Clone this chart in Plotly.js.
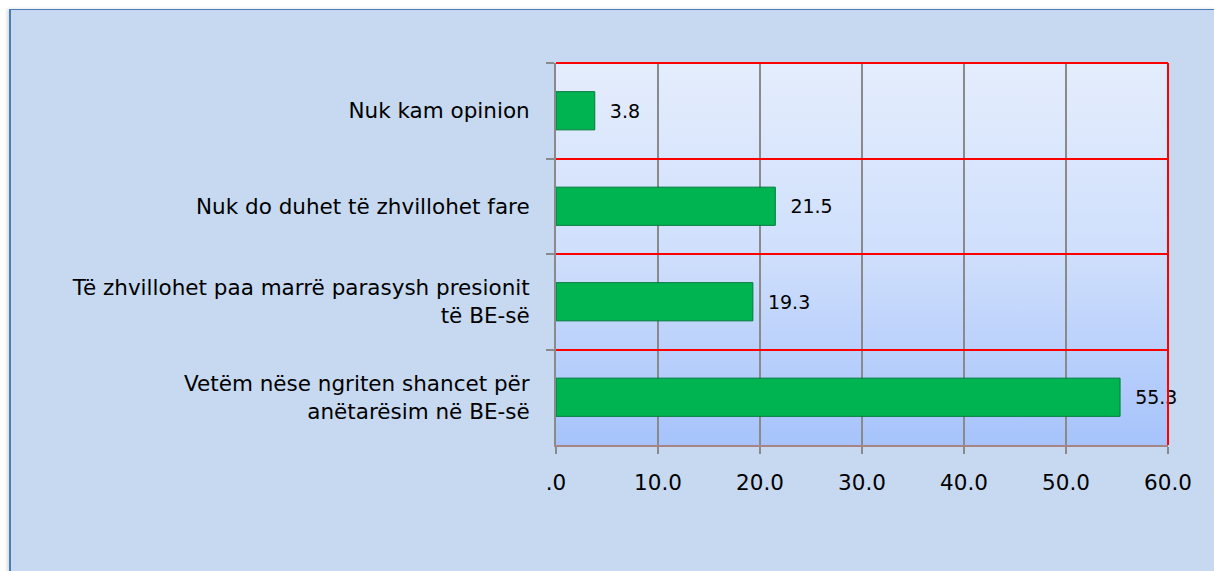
<!DOCTYPE html>
<html>
<head>
<meta charset="utf-8">
<script src="https://cdn.plot.ly/plotly-3.0.1.min.js"></script>
<style>
  body { margin: 0; background: #ffffff; }
  #frame {
    position: absolute; left: 9px; top: 9px; width: 1205px; height: 562px;
    background: #c6d9f0; border-left: 2px solid #4a7ebb; border-top: 1px solid #4a7ebb;
    box-shadow: -2px 0 3px rgba(0,0,0,0.15);
  }
  #chart { position: absolute; left: 0; top: 0; width: 1214px; height: 571px; }
</style>
</head>
<body>
<div id="frame"></div>
<div id="chart"></div>
<script>
// categories from top to bottom, as in the picture
let answers = [
  "Nuk kam opinion",
  "Nuk do duhet të zhvillohet fare",
  "Të zhvillohet paa marrë parasysh presionit<br>të BE-së",
  "Vetëm nëse ngriten shancet për<br>anëtarësim në BE-së"
];
let percent = [3.8, 21.5, 19.3, 55.3];
let xTicks = [0, 10, 20, 30, 40, 50, 60];
let xTickText = [".0", "10.0", "20.0", "30.0", "40.0", "50.0", "60.0"];

// plot area gradient (light on top, bluer at bottom)
let grad = '<svg xmlns="http://www.w3.org/2000/svg" width="100" height="100" preserveAspectRatio="none">' +
  '<defs><linearGradient id="g" x1="0" y1="0" x2="0" y2="1">' +
  '<stop offset="0" stop-color="#e4edfc"/><stop offset="0.5" stop-color="#cfdffc"/><stop offset="1" stop-color="#a6c3fb"/>' +
  '</linearGradient></defs><rect width="100" height="100" fill="url(#g)"/></svg>';

let txtFont = { family: "DejaVu Sans", size: 21.5, color: "#000000" };

let trace1 = {
  type: "bar",
  orientation: "h",
  x: percent,
  y: answers,
  width: 0.4,
  marker: { color: "#00b451", line: { color: "#007a3a", width: 1 } },
  text: percent.map(v => "\u00a0\u00a0" + v.toFixed(1)),
  textposition: "outside",
  textfont: { family: "DejaVu Sans", size: 19, color: "#000000" },
  constraintext: "none",
  cliponaxis: false,
  hoverinfo: "none"
};

let layout1 = {
  width: 1214,
  height: 571,
  margin: { l: 556, r: 46, t: 63, b: 126 },
  paper_bgcolor: "rgba(0,0,0,0)",
  plot_bgcolor: "rgba(0,0,0,0)",
  showlegend: false,
  font: txtFont,
  xaxis: {
    range: [0, 60],
    tickvals: xTicks,
    ticktext: xTickText,
    showgrid: true,
    gridcolor: "#8a8a8a",
    gridwidth: 2,
    zeroline: false,
    showline: true,
    linecolor: "#a88484",
    linewidth: 2,
    ticks: "outside",
    ticklen: 7,
    tickwidth: 2,
    tickcolor: "#8a8a8a",
    ticklabelstandoff: 10,
    tickfont: txtFont
  },
  yaxis: {
    type: "category",
    autorange: "reversed",
    tickson: "boundaries",
    showgrid: true,
    gridcolor: "#ff0000",
    gridwidth: 2,
    showline: true,
    linecolor: "#8a8a8a",
    linewidth: 2,
    ticks: "outside",
    ticklen: 8,
    tickwidth: 2,
    tickcolor: "#8a8a8a",
    ticklabelstandoff: 20,
    tickfont: txtFont
  },
  images: [{
    source: "data:image/svg+xml;utf8," + encodeURIComponent(grad),
    xref: "paper", yref: "paper", x: 0, y: 1, sizex: 1, sizey: 1,
    sizing: "stretch", layer: "below"
  }],
  shapes: [
    { type: "line", xref: "paper", yref: "paper", x0: 0, x1: 1, y0: 1, y1: 1, line: { color: "#ff0000", width: 2 } },
    { type: "line", xref: "paper", yref: "paper", x0: 1, x1: 1, y0: 0, y1: 1, line: { color: "#ff0000", width: 2 } }
  ]
};

Plotly.newPlot("chart", [trace1], layout1, { displayModeBar: false, staticPlot: true });
</script>
</body>
</html>
